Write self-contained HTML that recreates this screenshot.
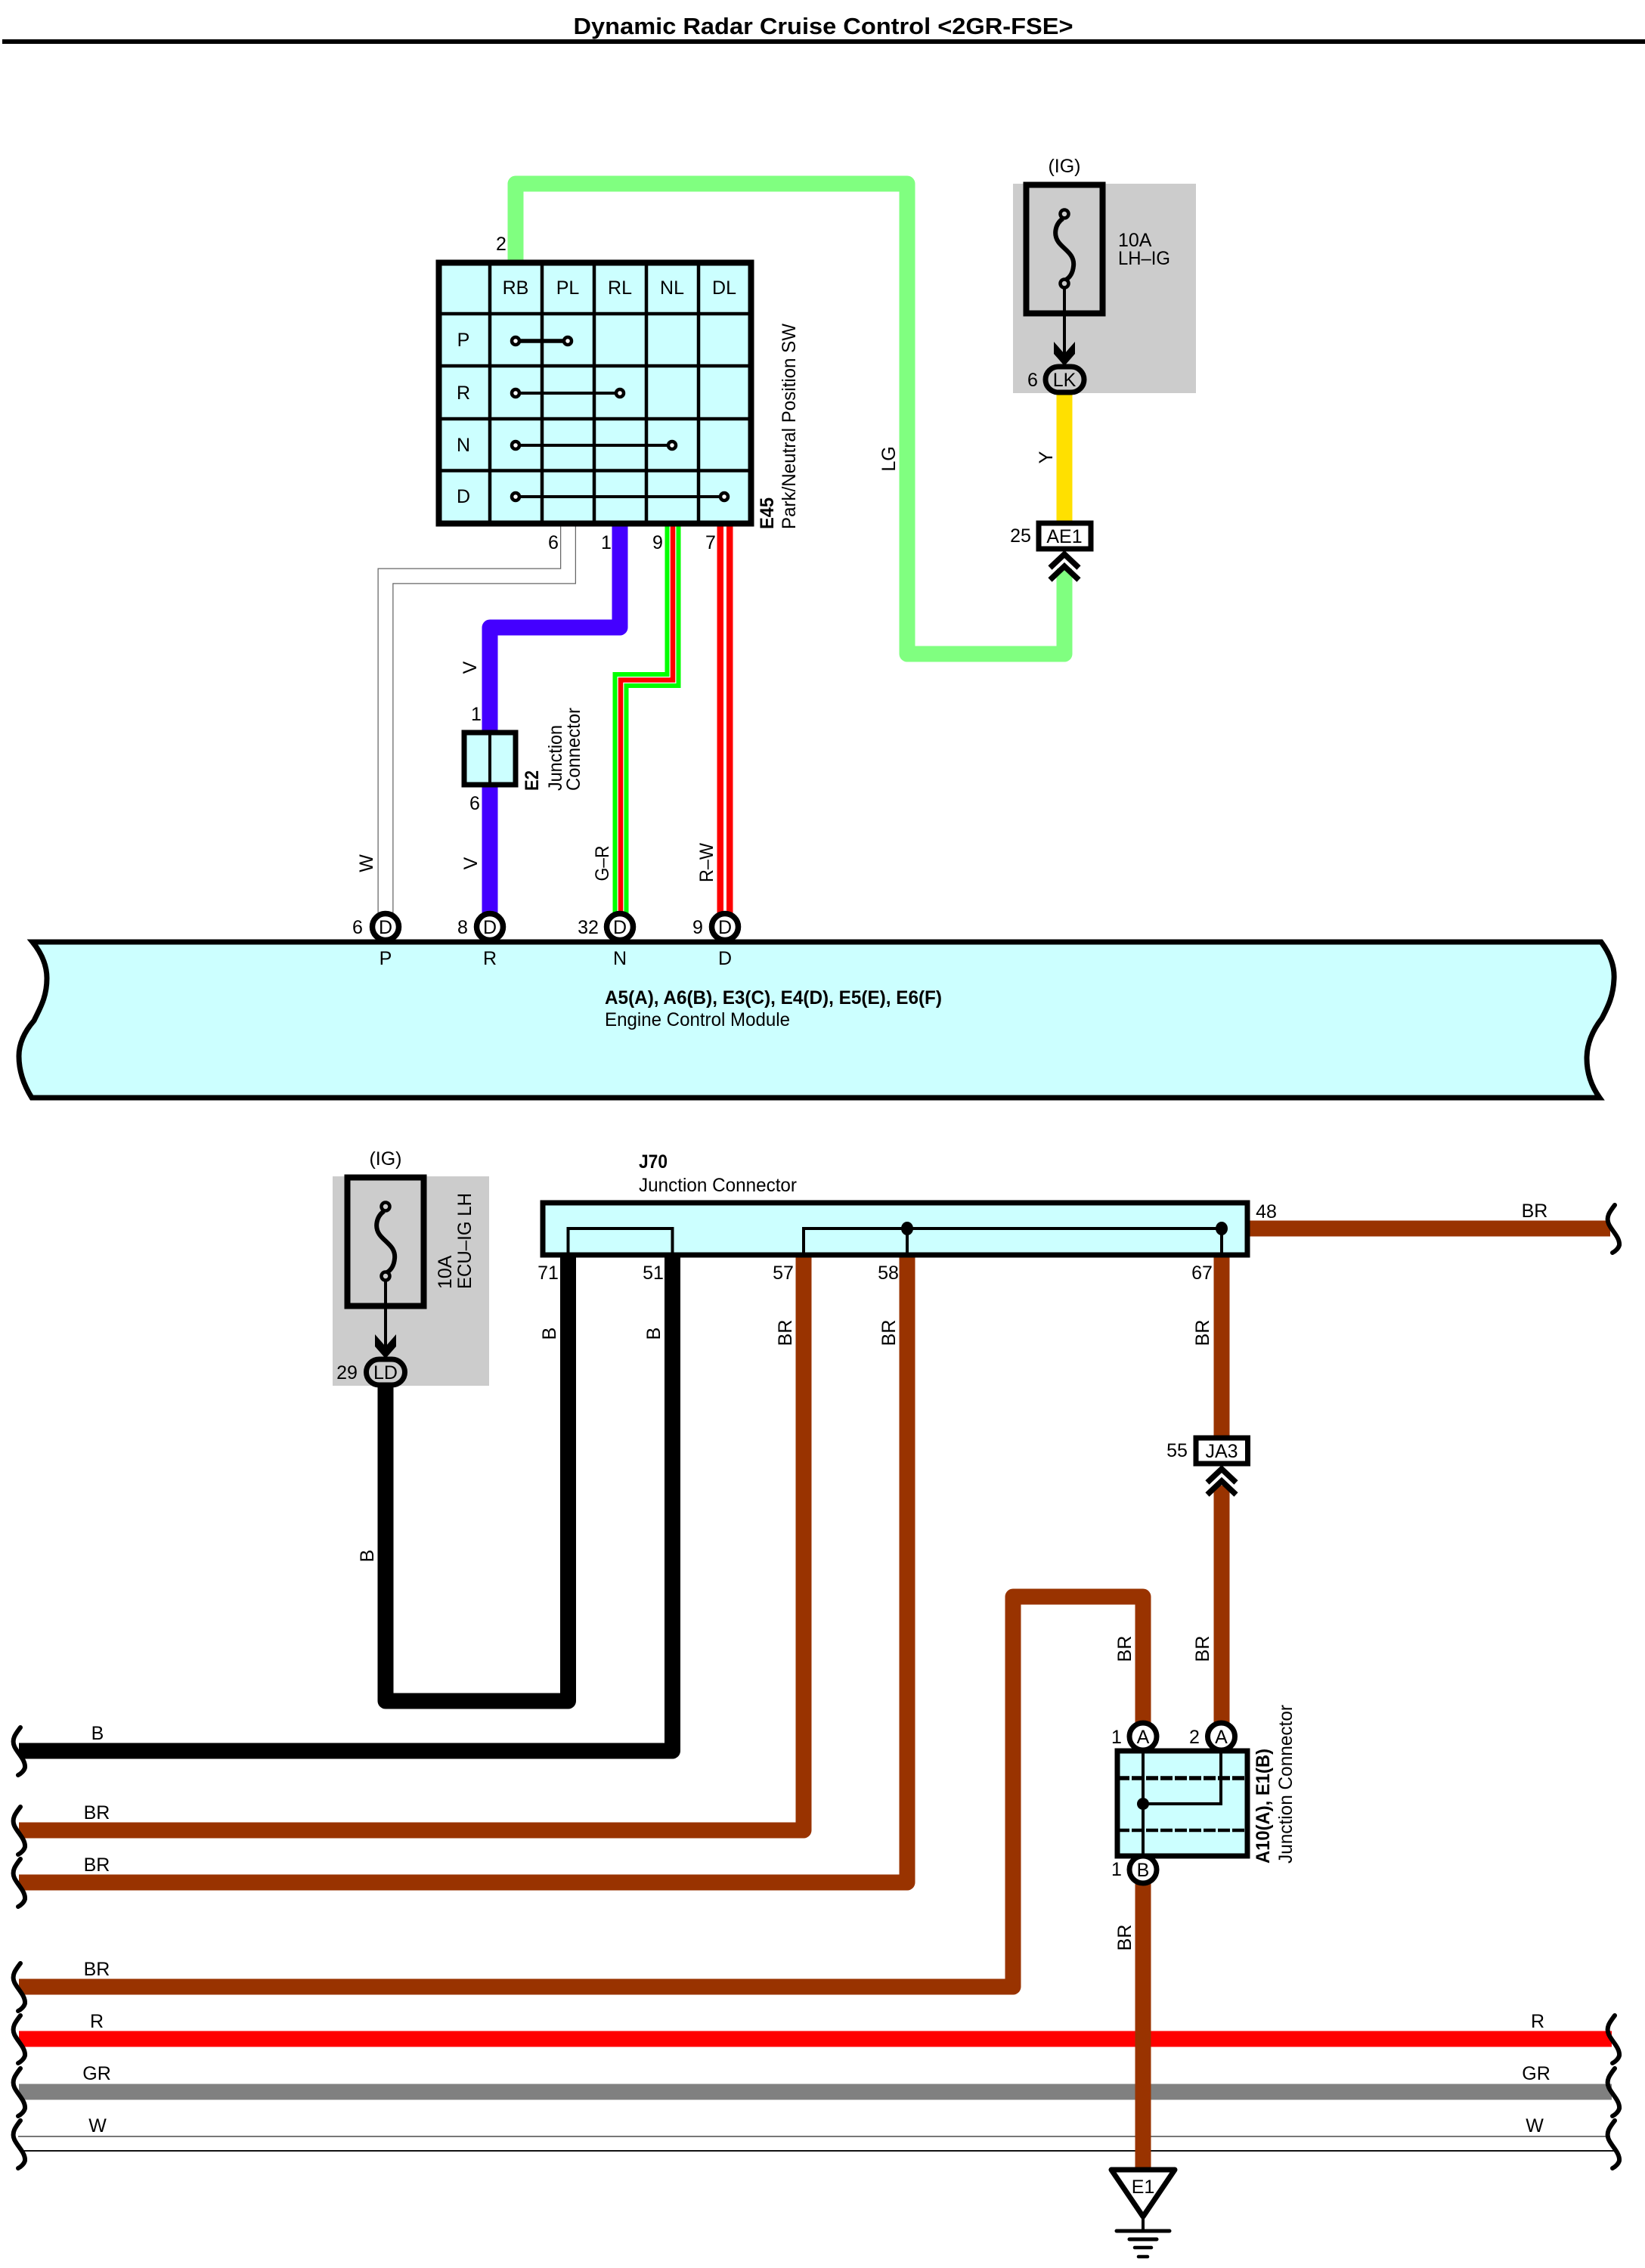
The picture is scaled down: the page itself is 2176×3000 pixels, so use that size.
<!DOCTYPE html>
<html>
<head>
<meta charset="utf-8">
<style>
html,body{margin:0;padding:0;background:#fff;}
svg{display:block;}
text{font-family:"Liberation Sans",sans-serif;font-size:25px;fill:#000;}
.m{text-anchor:middle;}
.b{font-weight:bold;}
.w{fill:none;stroke-linejoin:round;stroke-linecap:butt;stroke-width:21;}
</style>
</head>
<body>
<svg width="2176" height="3000" viewBox="0 0 2176 3000" xmlns="http://www.w3.org/2000/svg">
<defs>
<path id="sq" d="M27,-31 C20,-22 15,-15 19,-6 C23,3 34,12 33,22 C32,26 28,30 24,32" fill="none" stroke="#000" stroke-width="6" stroke-linecap="round"/>
<g id="sqL">
<polygon points="12,1 24,1 31,12 12,12" fill="#fff"/>
<path d="M27,-31 C20,-22 15,-15 19,-6 C23,3 34,12 33,22 C32,26 28,30 24,32" fill="none" stroke="#000" stroke-width="6" stroke-linecap="round"/>
</g>
<g id="fuse">
<rect x="1357.5" y="244.5" width="101" height="170" fill="none" stroke="#000" stroke-width="8"/>
<path d="M1406,289 C1396,296 1393,310 1400,320 C1407,330 1422,336 1420,352 C1419,362 1415,367 1410,370" fill="none" stroke="#000" stroke-width="6"/>
<circle cx="1408" cy="283" r="5.5" fill="none" stroke="#000" stroke-width="4.5"/>
<circle cx="1408" cy="375" r="5.5" fill="none" stroke="#000" stroke-width="4.5"/>
<line x1="1408" y1="381" x2="1408" y2="470" stroke="#000" stroke-width="4"/>
<polygon points="1394,452 1408,468 1422,452 1422,468 1408,484 1394,468" fill="#000"/>
</g>
</defs>

<rect width="2176" height="3000" fill="#fff"/>

<!-- Title -->
<text x="1089" y="45" class="m b" style="font-size:31px" textLength="661" lengthAdjust="spacingAndGlyphs">Dynamic Radar Cruise Control &lt;2GR-FSE&gt;</text>
<rect x="3" y="52" width="2173" height="6" fill="#000"/>

<!-- Grey boxes -->
<rect x="1340" y="243" width="242" height="277" fill="#ccc"/>
<rect x="440" y="1556" width="207" height="277" fill="#ccc"/>

<!-- Upper wires -->
<path class="w" stroke="#80ff80" d="M682,348 V243 H1200 V865 H1408 V760"/>
<path class="w" stroke="#ffe000" d="M1408,520 V692"/>
<path class="w" stroke="#666" d="M751.5,696 V762 H510 V1210" style="stroke-linejoin:miter"/>
<path class="w" stroke="#fff" d="M751.5,696 V762 H510 V1210" style="stroke-width:18.5;stroke-linejoin:miter"/>
<path class="w" stroke="#4400ff" d="M820,696 V830 H648 V1210"/>
<path class="w" stroke="#00ff00" d="M890,696 V899.5 H821 V1210" style="stroke-linejoin:miter"/>
<path class="w" stroke="#fff" d="M890,696 V899.5 H821 V1210" style="stroke-width:9;stroke-linejoin:miter"/>
<path class="w" stroke="#ff0000" d="M890,696 V899.5 H821 V1210" style="stroke-width:6.5;stroke-linejoin:miter"/>
<path class="w" stroke="#ff0000" d="M959,696 V1210"/>
<rect x="957" y="696" width="4" height="514" fill="#fff"/>

<!-- E45 switch -->
<rect x="580.5" y="347.5" width="413" height="345" fill="#ccffff" stroke="#000" stroke-width="8"/>
<g stroke="#000" stroke-width="4.5">
<line x1="648" y1="347" x2="648" y2="693"/>
<line x1="717" y1="347" x2="717" y2="693"/>
<line x1="786" y1="347" x2="786" y2="693"/>
<line x1="855" y1="347" x2="855" y2="693"/>
<line x1="924" y1="347" x2="924" y2="693"/>
<line x1="580" y1="415" x2="994" y2="415"/>
<line x1="580" y1="484" x2="994" y2="484"/>
<line x1="580" y1="554" x2="994" y2="554"/>
<line x1="580" y1="622.5" x2="994" y2="622.5"/>
</g>
<g stroke="#000" stroke-width="4">
<line x1="682" y1="451" x2="751" y2="451" stroke-width="5.5"/>
<line x1="682" y1="520" x2="820" y2="520"/>
<line x1="682" y1="589" x2="889" y2="589"/>
<line x1="682" y1="657" x2="958" y2="657"/>
</g>
<g fill="#fff" stroke="#000" stroke-width="4.5">
<circle cx="682" cy="451" r="5"/><circle cx="751" cy="451" r="5"/>
<circle cx="682" cy="520" r="5"/><circle cx="820" cy="520" r="5"/>
<circle cx="682" cy="589" r="5"/><circle cx="889" cy="589" r="5"/>
<circle cx="682" cy="657" r="5"/><circle cx="958" cy="657" r="5"/>
</g>
<text x="682" y="389" class="m">RB</text>
<text x="751" y="389" class="m">PL</text>
<text x="820" y="389" class="m">RL</text>
<text x="889" y="389" class="m">NL</text>
<text x="958" y="389" class="m">DL</text>
<text x="613" y="458" class="m">P</text>
<text x="613" y="528" class="m">R</text>
<text x="613" y="597" class="m">N</text>
<text x="613" y="665" class="m">D</text>
<text x="663" y="331" class="m">2</text>
<text x="732" y="726" class="m">6</text>
<text x="802" y="726" class="m">1</text>
<text x="870" y="726" class="m">9</text>
<text x="940" y="726" class="m">7</text>
<text transform="translate(1023,700) rotate(-90)" class="b" textLength="42" lengthAdjust="spacingAndGlyphs">E45</text>
<text transform="translate(1052,700) rotate(-90)" textLength="272" lengthAdjust="spacingAndGlyphs">Park/Neutral Position SW</text>
<text transform="translate(1184,607) rotate(-90)" class="m">LG</text>

<!-- LH-IG fuse -->
<use href="#fuse"/>
<text x="1408" y="228" class="m">(IG)</text>
<text x="1479" y="326">10A</text>
<text x="1479" y="350" textLength="69" lengthAdjust="spacingAndGlyphs">LH–IG</text>
<rect x="1383" y="485" width="51" height="34" rx="17" ry="17" fill="#ccc" stroke="#000" stroke-width="7"/>
<text x="1408" y="511" class="m">LK</text>
<text x="1366" y="511" class="m">6</text>
<text transform="translate(1392,605) rotate(-90)" class="m">Y</text>
<rect x="1374" y="692" width="69" height="34" fill="#fff" stroke="#000" stroke-width="7"/>
<text x="1408" y="718" class="m">AE1</text>
<text x="1350" y="717" class="m">25</text>
<rect x="1398" y="752" width="20" height="10" fill="#80ff80"/>
<path d="M1389,751 L1408,733 L1427,751 M1389,767 L1408,749 L1427,767" fill="none" stroke="#000" stroke-width="7.5"/>

<!-- E2 -->
<rect x="614" y="969" width="68" height="69" fill="#ccffff" stroke="#000" stroke-width="7"/>
<line x1="648" y1="969" x2="648" y2="1038" stroke="#000" stroke-width="4"/>
<text x="630" y="953" class="m">1</text>
<text x="628" y="1071" class="m">6</text>
<text transform="translate(712,1046) rotate(-90)" class="b" textLength="27" lengthAdjust="spacingAndGlyphs">E2</text>
<text transform="translate(743,1046) rotate(-90)" textLength="87" lengthAdjust="spacingAndGlyphs">Junction</text>
<text transform="translate(767,1046) rotate(-90)" textLength="110" lengthAdjust="spacingAndGlyphs">Connector</text>
<text transform="translate(630,883) rotate(-90)" class="m">V</text>
<text transform="translate(631,1142) rotate(-90)" class="m">V</text>
<text transform="translate(493,1142) rotate(-90)" class="m">W</text>
<text transform="translate(805,1142) rotate(-90)" class="m" textLength="47" lengthAdjust="spacingAndGlyphs">G–R</text>
<text transform="translate(943,1141) rotate(-90)" class="m" textLength="52" lengthAdjust="spacingAndGlyphs">R–W</text>

<!-- ECU -->
<g fill="#fff" stroke="#000" stroke-width="7.5">
<circle cx="510" cy="1226" r="17.5"/>
<circle cx="648" cy="1226" r="17.5"/>
<circle cx="820" cy="1226" r="17.5"/>
<circle cx="959" cy="1226" r="17.5"/>
</g>
<text x="510" y="1235" class="m">D</text>
<text x="648" y="1235" class="m">D</text>
<text x="820" y="1235" class="m">D</text>
<text x="959" y="1235" class="m">D</text>
<text x="473" y="1235" class="m">6</text>
<text x="612" y="1235" class="m">8</text>
<text x="778" y="1235" class="m">32</text>
<text x="923" y="1235" class="m">9</text>
<path d="M43,1246 L2118,1246 C2130,1262 2136,1278 2135,1295 C2134,1320 2125,1335 2119,1347 C2105,1365 2099,1382 2099,1400 C2099,1420 2106,1438 2116,1452 L42,1452 C32,1436 25,1418 25,1397 C25,1380 32,1365 45,1350 C52,1335 62,1320 62,1294 C62,1278 56,1262 43,1246 Z" fill="#ccffff" stroke="#000" stroke-width="7"/>
<text x="510" y="1276" class="m">P</text>
<text x="648" y="1276" class="m">R</text>
<text x="820" y="1276" class="m">N</text>
<text x="959" y="1276" class="m">D</text>
<text x="800" y="1328" textLength="446" lengthAdjust="spacingAndGlyphs" class="b">A5(A), A6(B), E3(C), E4(D), E5(E), E6(F)</text>
<text x="800" y="1357" textLength="245" lengthAdjust="spacingAndGlyphs">Engine Control Module</text>

<!-- Lower wires -->
<path class="w" stroke="#000" d="M510,1835 V2250 H751.5 V1660"/>
<path class="w" stroke="#000" d="M25,2316 H889.5 V1660"/>
<path class="w" stroke="#993300" d="M25,2421 H1063 V1660"/>
<path class="w" stroke="#993300" d="M25,2490 H1200 V1660"/>
<path class="w" stroke="#ff0000" d="M25,2697 H2132"/>
<path class="w" stroke="#808080" d="M25,2767 H2132"/>
<line x1="24" y1="2826" x2="2130" y2="2826" stroke="#777" stroke-width="2"/>
<line x1="31" y1="2845" x2="2140" y2="2845" stroke="#111" stroke-width="2"/>
<path class="w" stroke="#993300" d="M25,2628 H1340 V2112 H1512 V2285"/>
<path class="w" stroke="#993300" d="M1512,2480 V2870"/>
<path class="w" stroke="#993300" d="M1650,1625 H2130"/>
<path class="w" stroke="#993300" d="M1616,1660 V1905"/>
<path class="w" stroke="#993300" d="M1616,1965 V2285"/>

<!-- Squiggles -->
<use href="#sqL" x="0" y="2316"/>
<use href="#sqL" x="0" y="2421"/>
<use href="#sqL" x="0" y="2490"/>
<use href="#sqL" x="0" y="2628"/>
<use href="#sqL" x="0" y="2697"/>
<use href="#sqL" x="0" y="2767"/>
<use href="#sq" x="0" y="2836"/>
<use href="#sq" x="2109" y="1625"/>
<use href="#sq" x="2109" y="2697"/>
<use href="#sq" x="2109" y="2767"/>
<use href="#sq" x="2109" y="2836"/>

<!-- ECU-IG fuse -->
<g transform="translate(-898,1313)"><use href="#fuse"/></g>
<text x="510" y="1541" class="m">(IG)</text>
<text transform="translate(597,1705) rotate(-90)">10A</text>
<text transform="translate(623,1705) rotate(-90)" textLength="127" lengthAdjust="spacingAndGlyphs">ECU–IG LH</text>
<rect x="484.5" y="1798" width="51" height="34" rx="17" ry="17" fill="#ccc" stroke="#000" stroke-width="7"/>
<text x="510" y="1824" class="m">LD</text>
<text x="459" y="1824" class="m">29</text>
<text transform="translate(494,2058) rotate(-90)" class="m">B</text>

<!-- J70 -->
<text x="845" y="1545" class="b" textLength="38" lengthAdjust="spacingAndGlyphs">J70</text>
<text x="845" y="1576" textLength="209" lengthAdjust="spacingAndGlyphs">Junction Connector</text>
<rect x="718" y="1591" width="932" height="69" fill="#ccffff" stroke="#000" stroke-width="7"/>
<path d="M751.5,1660 V1625 H889.5 V1660 M1063,1660 V1625 H1616 V1660 M1200,1625 V1660" fill="none" stroke="#000" stroke-width="4"/>
<ellipse cx="1200" cy="1625" rx="8" ry="9" fill="#000"/>
<ellipse cx="1616" cy="1625" rx="8" ry="9" fill="#000"/>
<text x="725" y="1692" class="m">71</text>
<text x="864" y="1692" class="m">51</text>
<text x="1036" y="1692" class="m">57</text>
<text x="1175" y="1692" class="m">58</text>
<text x="1590" y="1692" class="m">67</text>
<text x="1675" y="1611" class="m">48</text>
<text x="2030" y="1610" class="m">BR</text>
<text transform="translate(735,1764) rotate(-90)" class="m">B</text>
<text transform="translate(873,1764) rotate(-90)" class="m">B</text>
<text transform="translate(1047,1763) rotate(-90)" class="m">BR</text>
<text transform="translate(1184,1763) rotate(-90)" class="m">BR</text>
<text transform="translate(1599,1763) rotate(-90)" class="m">BR</text>

<!-- JA3 -->
<rect x="1582" y="1902" width="68.5" height="34" fill="#fff" stroke="#000" stroke-width="7"/>
<text x="1616" y="1928" class="m">JA3</text>
<text x="1557" y="1927" class="m">55</text>
<path d="M1597,1961 L1616,1943 L1635,1961 M1597,1977 L1616,1959 L1635,1977" fill="none" stroke="#000" stroke-width="7.5"/>

<!-- A10/E1 junction -->
<rect x="1478" y="2316" width="172" height="139" fill="#ccffff" stroke="#000" stroke-width="7"/>
<line x1="1478" y1="2352" x2="1650" y2="2352" stroke="#000" stroke-width="5.5" stroke-dasharray="16 3"/>
<line x1="1478" y1="2421" x2="1650" y2="2421" stroke="#000" stroke-width="4.5" stroke-dasharray="16 3"/>
<path d="M1512,2316 V2455 M1615,2316 V2386 H1512" fill="none" stroke="#000" stroke-width="4"/>
<circle cx="1512" cy="2386" r="8" fill="#000"/>
<g fill="#fff" stroke="#000" stroke-width="7">
<circle cx="1512" cy="2297" r="18"/>
<circle cx="1615.5" cy="2297" r="18"/>
<circle cx="1512" cy="2473" r="18"/>
</g>
<text x="1512" y="2306" class="m">A</text>
<text x="1615.5" y="2306" class="m">A</text>
<text x="1512" y="2482" class="m">B</text>
<text x="1477" y="2306" class="m">1</text>
<text x="1580" y="2306" class="m">2</text>
<text x="1477" y="2481" class="m">1</text>
<text transform="translate(1679,2465) rotate(-90)" class="b" textLength="152" lengthAdjust="spacingAndGlyphs">A10(A), E1(B)</text>
<text transform="translate(1709,2465) rotate(-90)" textLength="210" lengthAdjust="spacingAndGlyphs">Junction Connector</text>
<text transform="translate(1496,2181) rotate(-90)" class="m">BR</text>
<text transform="translate(1599,2181) rotate(-90)" class="m">BR</text>
<text transform="translate(1496,2563) rotate(-90)" class="m">BR</text>

<!-- Left / right wire labels -->
<text x="129" y="2301" class="m">B</text>
<text x="128" y="2406" class="m">BR</text>
<text x="128" y="2475" class="m">BR</text>
<text x="128" y="2613" class="m">BR</text>
<text x="128" y="2682" class="m">R</text>
<text x="128" y="2751" class="m">GR</text>
<text x="129" y="2820" class="m">W</text>
<text x="2034" y="2682" class="m">R</text>
<text x="2032" y="2751" class="m">GR</text>
<text x="2030" y="2820" class="m">W</text>

<!-- Ground -->
<polygon points="1470,2870 1554,2870 1512,2932" fill="#fff" stroke="#000" stroke-width="7" stroke-linejoin="round"/>
<text x="1512" y="2901" class="m">E1</text>
<line x1="1512" y1="2932" x2="1512" y2="2951" stroke="#000" stroke-width="4"/>
<g stroke="#000" stroke-linecap="round">
<line x1="1477" y1="2951" x2="1547" y2="2951" stroke-width="5"/>
<line x1="1494" y1="2962" x2="1530" y2="2962" stroke-width="5"/>
<line x1="1501" y1="2973" x2="1523" y2="2973" stroke-width="4.5"/>
<line x1="1506" y1="2985" x2="1518" y2="2985" stroke-width="4.5"/>
</g>
</svg>
</body>
</html>
